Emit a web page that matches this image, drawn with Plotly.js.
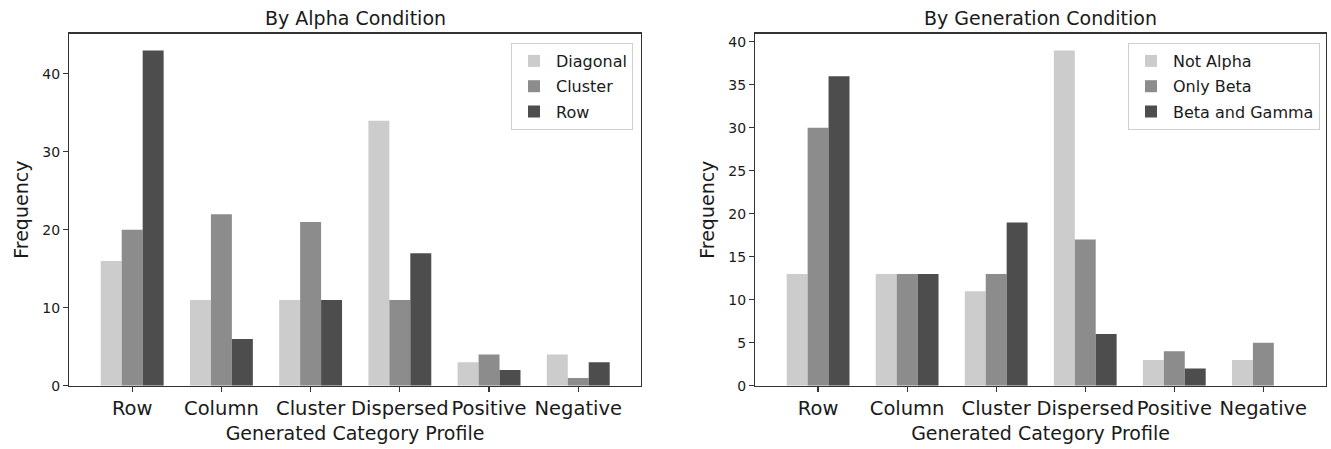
<!DOCTYPE html>
<html>
<head>
<meta charset="utf-8">
<script src="https://cdn.plot.ly/plotly-3.0.1.min.js"></script>
<style>html,body{margin:0;padding:0;background:#fff;}#chart{width:1331px;height:449px;}</style>
</head>
<body>
<div id="chart"></div>
<script>
const categories = ["Row", "Column", "Cluster", "Dispersed", "Positive", "Negative"];

// Left panel: By Alpha Condition
const alphaNames = ["Diagonal", "Cluster", "Row"];
const alphaDiagonal = [16, 11, 11, 34, 3, 4];
const alphaCluster = [20, 22, 21, 11, 4, 1];
const alphaRow = [43, 6, 11, 17, 2, 3];

// Right panel: By Generation Condition
const genNames = ["Not Alpha", "Only Beta", "Beta and Gamma"];
const genNotAlpha = [13, 13, 11, 39, 3, 3];
const genOnlyBeta = [30, 13, 13, 17, 4, 5];
const genBetaGamma = [36, 13, 19, 6, 2, 0];

const colors = ["#cccccc", "#8c8c8c", "#4d4d4d"];
const FONT = "DejaVu Sans, Verdana, sans-serif";
const TXT = "#1a1a1a";

function mk(vals, name, i, xa, ya, leg) {
  return {
    type: "bar", x: categories, y: vals, name: name,
    xaxis: xa, yaxis: ya, legend: leg, legendgroup: leg + "_" + i,
    marker: {color: colors[i], line: {width: 0}},
    hoverinfo: "x+y+name"
  };
}

const traces = [
  mk(alphaDiagonal, alphaNames[0], 0, "x", "y", "legend"),
  mk(alphaCluster, alphaNames[1], 1, "x", "y", "legend"),
  mk(alphaRow, alphaNames[2], 2, "x", "y", "legend"),
  mk(genNotAlpha, genNames[0], 0, "x2", "y2", "legend2"),
  mk(genOnlyBeta, genNames[1], 1, "x2", "y2", "legend2"),
  mk(genBetaGamma, genNames[2], 2, "x2", "y2", "legend2")
];

const W = 1331, H = 449;
const plotTop = 33.7, plotBottom = 385.7;
const yDom = [(H - plotBottom) / H, (H - plotTop) / H];

function xaxis(l, r) {
  return {
    domain: [l / W, r / W], type: "category", range: [-0.705, 5.70],
    showline: true, mirror: true, linecolor: "#333", linewidth: 1.3,
    ticks: "outside", ticklen: 5, tickwidth: 1.2, tickcolor: "#333",
    showgrid: false, zeroline: false, tickangle: 0,
    tickfont: {family: FONT, size: 19.5, color: TXT},
    title: {text: "Generated Category Profile", font: {family: FONT, size: 19, color: TXT}, standoff: 7},
    automargin: false
  };
}
function yaxis(anchor, maxv, dtick) {
  return {
    domain: yDom, anchor: anchor, range: [0, maxv],
    showline: true, mirror: true, linecolor: "#333", linewidth: 1.3,
    ticks: "outside", ticklen: 5, tickwidth: 1.2, tickcolor: "#333",
    showgrid: false, zeroline: false, dtick: dtick,
    tickfont: {family: FONT, size: 14, color: TXT},
    title: {text: "Frequency", font: {family: FONT, size: 19, color: TXT}, standoff: 8},
    automargin: false
  };
}

const xa1 = xaxis(69.3, 640.7); xa1.anchor = "y";
const xa2 = xaxis(755.3, 1325.7); xa2.anchor = "y2";

function legend(xr, yt) {
  return {
    x: xr / W, xanchor: "right", y: (H - yt) / H, yanchor: "top",
    bgcolor: "rgba(255,255,255,0.85)", bordercolor: "#d0d0d0", borderwidth: 1,
    font: {family: FONT, size: 16, color: TXT},
    tracegroupgap: 1.5, itemwidth: 34
  };
}

const layout = {
  width: W, height: H,
  margin: {l: 0, r: 0, t: 0, b: 0},
  paper_bgcolor: "#fff", plot_bgcolor: "#fff",
  barmode: "group", bargap: 0.295, bargroupgap: 0,
  font: {family: FONT, color: TXT},
  xaxis: xa1, yaxis: yaxis("x", 45.15, 10),
  xaxis2: xa2, yaxis2: yaxis("x2", 40.95, 5),
  legend: legend(633, 43),
  legend2: legend(1320, 43),
  annotations: [
    {text: "By Alpha Condition", xref: "paper", yref: "paper", x: 355 / W, y: (H - 31.5) / H,
     xanchor: "center", yanchor: "bottom", showarrow: false, font: {family: FONT, size: 19, color: TXT}},
    {text: "By Generation Condition", xref: "paper", yref: "paper", x: 1040.5 / W, y: (H - 31.5) / H,
     xanchor: "center", yanchor: "bottom", showarrow: false, font: {family: FONT, size: 19, color: TXT}}
  ]
};

Plotly.newPlot("chart", traces, layout, {displayModeBar: false, staticPlot: true});
</script>
</body>
</html>
